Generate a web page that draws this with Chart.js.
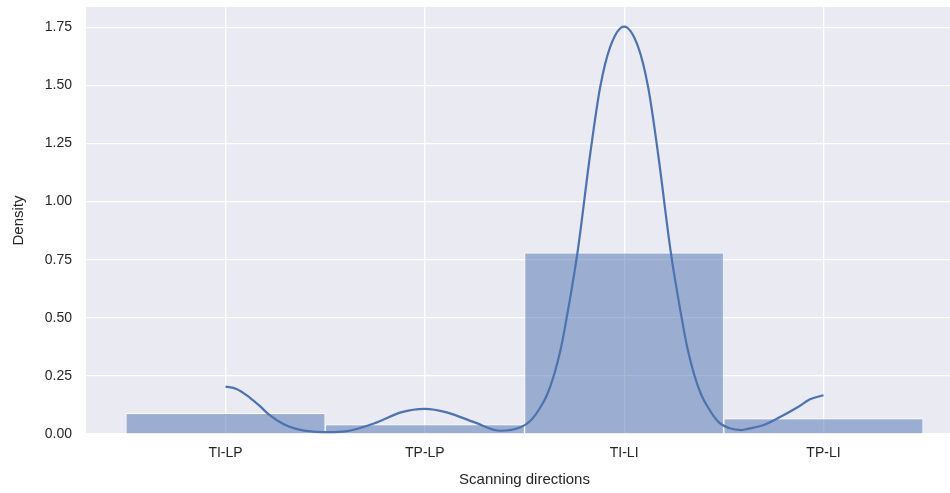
<!DOCTYPE html>
<html>
<head>
<meta charset="utf-8">
<script src="https://cdn.jsdelivr.net/npm/chart.js@4/dist/chart.umd.min.js"></script>
<style>
  html, body { margin: 0; padding: 0; background: #fff; overflow: hidden; }
  #wrap { width: 950px; height: 493px; overflow: hidden; }
</style>
</head>
<body>
<div id="wrap"><canvas id="histChart" width="963" height="493"></canvas></div>
<script>
const categories = ['TI-LP', 'TP-LP', 'TI-LI', 'TP-LI'];
const density = [0.089, 0.041, 0.780, 0.066];
const yTicks = [0, 0.25, 0.5, 0.75, 1.0, 1.25, 1.5, 1.75];

// kde curve (x in category units)
const kdeX = [0, 0.055, 0.12, 0.17, 0.22, 0.29, 0.355, 0.44, 0.52, 0.60, 0.76, 0.88, 1.0, 1.11, 1.25, 1.38, 1.48, 1.53, 1.58, 1.615, 1.65, 1.68, 1.70, 1.765, 1.83, 1.88, 1.93, 2.0, 2.07, 2.12, 2.17, 2.235, 2.30, 2.32, 2.35, 2.385, 2.42, 2.475, 2.525, 2.59, 2.62, 2.70, 2.78, 2.87, 2.93, 3.0];
const kdeY = [0.204, 0.194, 0.158, 0.122, 0.082, 0.043, 0.022, 0.010, 0.008, 0.011, 0.050, 0.093, 0.108, 0.093, 0.050, 0.014, 0.029, 0.057, 0.115, 0.172, 0.259, 0.359, 0.445, 0.776, 1.207, 1.494, 1.666, 1.753, 1.666, 1.494, 1.207, 0.776, 0.445, 0.359, 0.259, 0.172, 0.115, 0.050, 0.026, 0.017, 0.022, 0.039, 0.072, 0.115, 0.148, 0.167];

const plotBg = {
  id: 'plotBg',
  beforeDraw(chart) {
    const { ctx, chartArea: a } = chart;
    ctx.save();
    ctx.fillStyle = '#EAEAF2';
    ctx.fillRect(a.left, a.top, a.right - a.left, a.bottom - a.top);
    ctx.restore();
  },
};

const tickFont = { family: 'Liberation Sans, Arial, sans-serif', size: 14 };
const titleFont = { family: 'Liberation Sans, Arial, sans-serif', size: 15 };

new Chart(document.getElementById('histChart'), {
  type: 'bar',
  data: {
    datasets: [
      {
        type: 'line',
        data: kdeX.map((x, i) => ({ x, y: kdeY[i] })),
        borderColor: '#4C72B0',
        borderWidth: 2.2,
        pointRadius: 0,
        cubicInterpolationMode: 'monotone',
        fill: false,
        order: 0,
      },
      {
        type: 'bar',
        data: categories.map((c, i) => ({ x: i, y: density[i] })),
        backgroundColor: 'rgba(76,114,176,0.5)',
        borderColor: 'rgba(255,255,255,0.75)',
        borderWidth: 1,
        barPercentage: 1,
        categoryPercentage: 1,
        order: 1,
      },
    ],
  },
  options: {
    responsive: false,
    animation: false,
    layout: { padding: { top: 7, right: 0, left: 0, bottom: 0 } },
    plugins: { legend: { display: false }, tooltip: { enabled: false } },
    scales: {
      x: {
        type: 'linear',
        min: -0.7,
        max: 3.7,
        offset: false,
        afterBuildTicks: (s) => { s.ticks = categories.map((c, i) => ({ value: i })); },
        afterFit: (s) => { s.height = 59; s.paddingLeft = 0; s.paddingRight = 0; },
        ticks: {
          callback: (v) => categories[v],
          color: '#262626',
          font: tickFont,
          padding: 11,
          maxRotation: 0,
        },
        grid: { color: '#ffffff', lineWidth: 1.3, drawTicks: false, offset: false },
        border: { display: false },
        title: { display: true, text: 'Scanning directions', color: '#262626', font: titleFont, padding: { top: 4 } },
      },
      y: {
        min: 0,
        max: 1.8375,
        afterBuildTicks: (s) => { s.ticks = yTicks.map((v) => ({ value: v })); },
        afterFit: (s) => { s.width = 86; s.paddingTop = 0; s.paddingBottom = 0; },
        ticks: {
          callback: (v) => v.toFixed(2),
          color: '#262626',
          font: tickFont,
          padding: 14,
        },
        grid: { color: '#ffffff', lineWidth: 1.3, drawTicks: false },
        border: { display: false },
        title: { display: true, text: 'Density', color: '#262626', font: titleFont, padding: { top: 10, bottom: 2 } },
      },
    },
  },
  plugins: [plotBg],
});
</script>
</body>
</html>
